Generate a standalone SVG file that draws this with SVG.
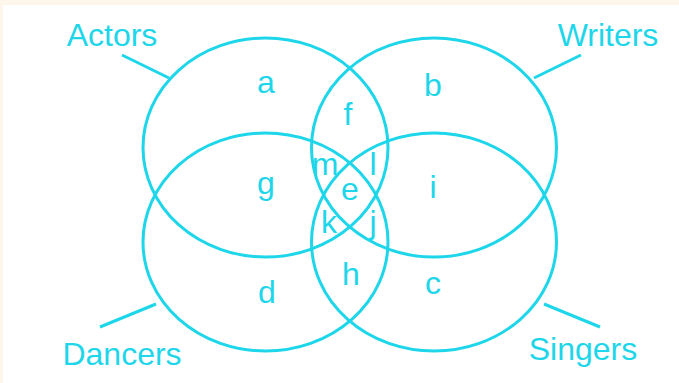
<svg xmlns="http://www.w3.org/2000/svg" width="679" height="383" viewBox="0 0 679 383">
<style>
.set{fill:none;stroke:#1ed6ea;stroke-width:3}
.lead{stroke:#1ed6ea;stroke-width:3}
text{font-family:"Liberation Sans",Arial,sans-serif;fill:#1ed6ea;text-anchor:middle}
.t{font-size:32px}
.r{font-size:32px}
</style>
<rect x="0" y="0" width="679" height="383" fill="#ffffff"/>
<rect x="0" y="0" width="679" height="5" fill="#fdf6ea"/>
<rect x="0" y="0" width="3" height="383" fill="#fdf6ea"/>
<g id="connectors">
<line class="lead" x1="122" y1="55" x2="169" y2="78"/>
<line class="lead" x1="534" y1="78" x2="581" y2="55"/>
<line class="lead" x1="100" y1="327" x2="156" y2="304"/>
<line class="lead" x1="544" y1="304" x2="600" y2="327"/>
</g>
<g id="actors"><ellipse class="set" cx="265.5" cy="147.5" rx="122.5" ry="109.5"/><text class="t" x="112" y="46">Actors</text></g>
<g id="writers"><ellipse class="set" cx="434" cy="147.5" rx="122.5" ry="109.5"/><text class="t" x="608" y="46">Writers</text></g>
<g id="dancers"><ellipse class="set" cx="265.5" cy="242" rx="122.5" ry="109"/><text class="t" x="122" y="365">Dancers</text></g>
<g id="singers"><ellipse class="set" cx="434" cy="242" rx="122.5" ry="109"/><text class="t" x="583" y="360">Singers</text></g>
<g id="regions">
<text class="r" x="266" y="93">a</text>
<text class="r" x="348" y="125">f</text>
<text class="r" x="433" y="96">b</text>
<text class="r" x="266" y="194">g</text>
<text class="r" x="325" y="175">m</text>
<text class="r" x="350" y="200">e</text>
<text class="r" x="373" y="175">l</text>
<text class="r" x="433" y="198">i</text>
<text class="r" x="329" y="233">k</text>
<text class="r" x="373" y="233">j</text>
<text class="r" x="267" y="303">d</text>
<text class="r" x="351" y="285">h</text>
<text class="r" x="433" y="294">c</text>
</g>
</svg>
